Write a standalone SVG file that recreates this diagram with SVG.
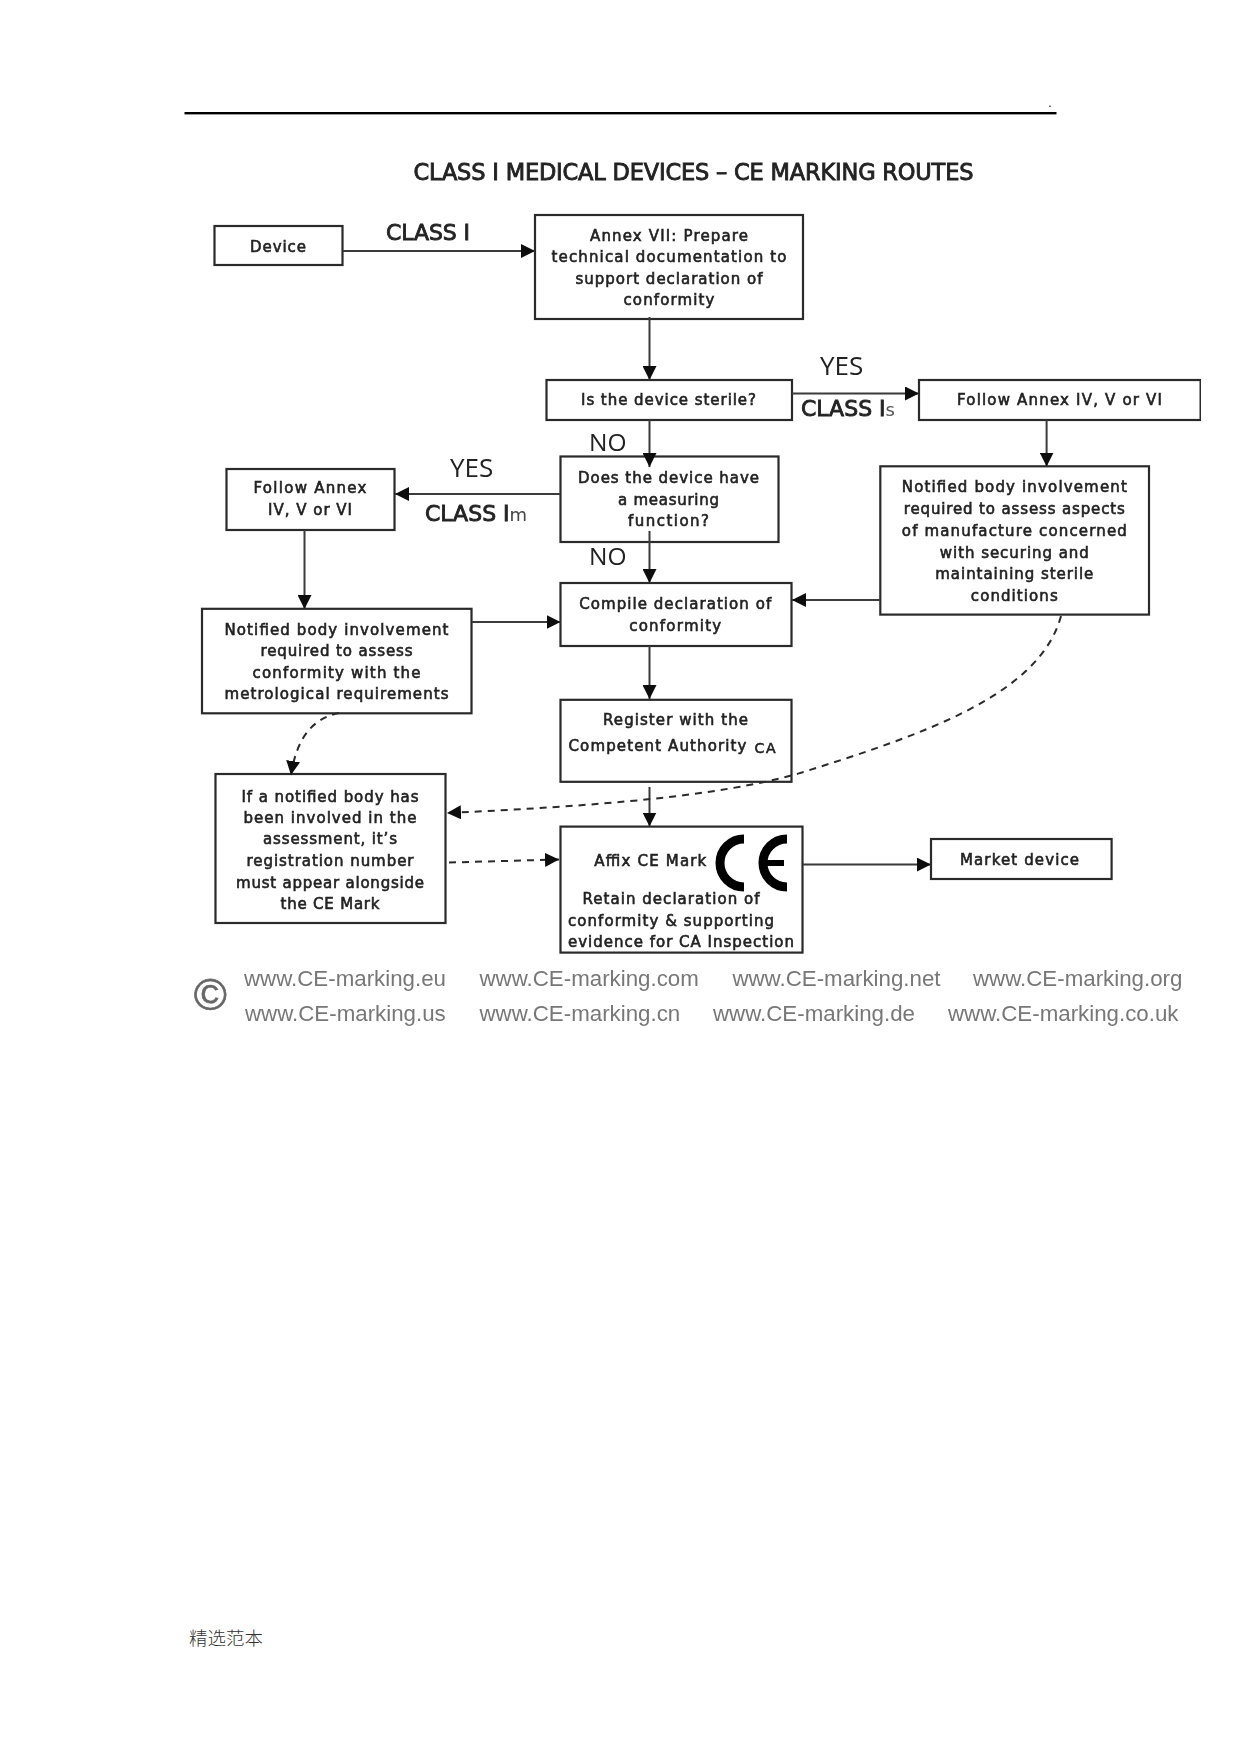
<svg xmlns="http://www.w3.org/2000/svg" width="1241" height="1754" viewBox="0 0 1241 1754">
<style>
text{font-family:"DejaVu Sans","Open Sans",sans-serif;fill:#222}
.n{font-size:15px;font-weight:400;text-anchor:middle;stroke:#222;stroke-width:.6}
.box{fill:#fff;stroke:#2a2a2a;stroke-width:2.2}
.c{fill:none;stroke:#3a3a3a;stroke-width:2;marker-end:url(#head)}
.d{fill:none;stroke:#2a2a2a;stroke-width:2;stroke-dasharray:7 6;marker-end:url(#head)}
.big{font-size:22px;font-weight:400;stroke:#222;stroke-width:.85}
.thin{font-family:"Open Sans","Noto Sans",sans-serif;font-size:26px;font-weight:400}
.no{font-size:24.500px}
.u{font-family:"Liberation Sans",Arial,sans-serif;font-size:22.300px;fill:#777}
.ce{fill:none;stroke:#000;stroke-width:9}
</style>
<defs>
<marker id="head" markerUnits="userSpaceOnUse" markerWidth="14" markerHeight="14" viewBox="0 0 13 13" refX="13" refY="6.5" orient="auto"><path d="M0 0L13 6.5L0 13Z" fill="#111"/></marker>
<filter id="soft" x="0" y="0" width="100%" height="100%"><feGaussianBlur stdDeviation="0.45"/></filter>
</defs>
<rect width="1241" height="1754" fill="#fff"/>
<g id="header"><rect x="184.500" y="112" width="872" height="2.400" fill="#000"/><text x="1050" y="107" font-size="12" text-anchor="middle" fill="#000">.</text></g>
<g id="diagram" filter="url(#soft)">
<text id="title" class="big" x="413.500" y="180" style="font-size:22.500px" textLength="560">CLASS I MEDICAL DEVICES – CE MARKING ROUTES</text>
<g id="device"><rect class="box" x="214.500" y="226" width="128" height="39"/><text class="n" x="278" y="251.500" textLength="56">Device</text></g>
<g id="annex7"><rect class="box" x="535" y="215" width="268" height="104"/><text class="n" x="669" y="240.500" textLength="158">Annex VII: Prepare</text><text class="n" x="669" y="261.500" textLength="235">technical documentation to</text><text class="n" x="669" y="283.500" textLength="187">support declaration of</text><text class="n" x="669" y="304.500" textLength="91">conformity</text></g>
<g id="sterile"><rect class="box" x="546.500" y="380" width="245.500" height="40"/><text class="n" x="668.500" y="405" textLength="175">Is the device sterile?</text></g>
<g id="followR"><rect class="box" x="919" y="380" width="281.600" height="40"/><text class="n" x="1059.500" y="405" textLength="205">Follow Annex IV, V or VI</text></g>
<g id="measuring"><rect class="box" x="560.500" y="456.500" width="218" height="85.500"/><text class="n" x="668.500" y="482.500" textLength="181">Does the device have</text><text class="n" x="668.500" y="504.500" textLength="101">a measuring</text><text class="n" x="668.500" y="526" textLength="81">function?</text></g>
<g id="followL"><rect class="box" x="226.500" y="469" width="168" height="61"/><text class="n" x="310" y="493" textLength="113">Follow Annex</text><text class="n" x="310" y="515" textLength="84">IV, V or VI</text></g>
<g id="notifiedR"><rect class="box" x="880.300" y="466.300" width="268.700" height="148.300"/><text class="n" x="1014.300" y="491.500" textLength="225">Notified body involvement</text><text class="n" x="1014.300" y="513.500" textLength="221">required to assess aspects</text><text class="n" x="1014.300" y="535.500" textLength="225">of manufacture concerned</text><text class="n" x="1014.300" y="557.500" textLength="149">with securing and</text><text class="n" x="1014.300" y="578.500" textLength="158">maintaining sterile</text><text class="n" x="1014.300" y="600.500" textLength="87">conditions</text></g>
<g id="compile"><rect class="box" x="560.500" y="583" width="231" height="63"/><text class="n" x="675.200" y="609.300" textLength="192">Compile declaration of</text><text class="n" x="675.200" y="631" textLength="92">conformity</text></g>
<g id="notifiedL"><rect class="box" x="202" y="608.800" width="269.500" height="104.500"/><text class="n" x="336.500" y="634.500" textLength="224">Notified body involvement</text><text class="n" x="336.500" y="655.500" textLength="152">required to assess</text><text class="n" x="336.500" y="677.500" textLength="168">conformity with the</text><text class="n" x="336.500" y="699" textLength="224">metrological requirements</text></g>
<g id="register"><rect class="box" x="560.500" y="699.800" width="231" height="82"/><text class="n" x="675.500" y="725" textLength="145">Register with the</text><text class="n" x="657.500" y="750.500" textLength="178">Competent Authority</text><text class="n" x="765" y="753" textLength="21" style="font-size:14px">CA</text></g>
<g id="notifyNumber"><rect class="box" x="215.500" y="774" width="230" height="149"/><text class="n" x="330" y="801.500" textLength="177">If a notified body has</text><text class="n" x="330" y="822.500" textLength="173">been involved in the</text><text class="n" x="330" y="844" textLength="134">assessment, it’s</text><text class="n" x="330" y="866" textLength="167">registration number</text><text class="n" x="330" y="888" textLength="188">must appear alongside</text><text class="n" x="330" y="909" textLength="99">the CE Mark</text></g>
<g id="affix"><rect class="box" x="560.500" y="826.600" width="242" height="126"/><text class="n" x="650.300" y="865.500" textLength="112">Affix CE Mark</text><path class="ce" d="M744 839A24 24 0 0 0 744 887"/><path class="ce" d="M787 839A24 24 0 0 0 787 887"/><path class="ce" d="M763 863H784" style="stroke-width:6"/><text class="n" x="671" y="903.600" textLength="177">Retain declaration of</text><text class="n" x="671" y="925.600" textLength="206">conformity &amp; supporting</text><text class="n" x="681" y="946.600" textLength="226">evidence for CA Inspection</text></g>
<g id="market"><rect class="box" x="931" y="839" width="180.600" height="40"/><text class="n" x="1019.500" y="865.200" textLength="119">Market device</text></g>
<g id="connectors">
<path class="c" d="M343 251H535"/>
<path class="c" d="M649.500 317V380"/>
<path class="c" d="M792 393.500H919"/>
<path class="c" d="M649.500 420V467"/>
<path class="c" d="M560 494H395"/>
<path class="c" d="M1046.600 420V466.500"/>
<path class="c" d="M649.500 531V583"/>
<path class="c" d="M880 600H792"/>
<path class="c" d="M304.500 530V609"/>
<path class="c" d="M472 622H560.500"/>
<path class="c" d="M649.500 646V699"/>
<path class="c" d="M649.500 787V826.500"/>
<path class="c" d="M803 864.600H931"/>
<path class="d" d="M1061 616C1039 697 918 736 797 774C718 796 600 806 447 813"/>
<path class="d" d="M339 713C314 718 297 736 291 775"/>
<path class="d" d="M449 862.500L559 859.500"/>
</g>
<g id="labels">
<text class="big" x="386" y="240" textLength="84">CLASS I</text>
<text class="thin" x="820" y="375">YES</text>
<text class="big" x="801" y="416">CLASS I<tspan font-size="18" stroke="none" fill="#555">s</tspan></text>
<text class="thin no" x="589" y="451">NO</text>
<text class="thin" x="450" y="477">YES</text>
<text class="big" x="425" y="521">CLASS I<tspan font-size="18" stroke="none" fill="#444">m</tspan></text>
<text class="thin no" x="589" y="565">NO</text>
</g>
<g id="footer">
<text class="u" x="193.700" y="1010" style="font-size:45px;fill:#666;stroke:#666;stroke-width:.6">©</text>
<text class="u" x="244" y="985.600">www.CE-marking.eu</text><text class="u" x="479.500" y="985.600">www.CE-marking.com</text><text class="u" x="732.400" y="985.600">www.CE-marking.net</text><text class="u" x="973" y="985.600">www.CE-marking.org</text>
<text class="u" x="245" y="1020.600">www.CE-marking.us</text><text class="u" x="479.500" y="1020.600">www.CE-marking.cn</text><text class="u" x="713" y="1020.600">www.CE-marking.de</text><text class="u" x="948" y="1020.600">www.CE-marking.co.uk</text>
</g>
</g>
<text id="pagefooter" x="189" y="1644.500" font-size="18.500" style="font-family:'Noto Sans CJK SC',sans-serif;font-weight:300;fill:#333">精选范本</text>
</svg>
